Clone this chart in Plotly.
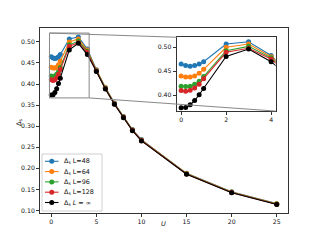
import plotly.graph_objects as go

U = [0, 0.2, 0.4, 0.6, 0.8, 1.0, 2, 3, 4, 5, 6, 7, 8, 9, 10, 15, 20, 25]
delta_L48 = [0.465, 0.462, 0.4605, 0.462, 0.465, 0.470, 0.507, 0.5117, 0.483,
             0.434, 0.392, 0.355, 0.323, 0.292, 0.268, 0.188, 0.144, 0.116]
delta_L64 = [0.440, 0.438, 0.438, 0.440, 0.446, 0.454, 0.500, 0.507, 0.4805,
             0.433, 0.391, 0.354, 0.322, 0.291, 0.267, 0.1875, 0.1435, 0.1155]
delta_L96 = [0.419, 0.418, 0.419, 0.423, 0.429, 0.439, 0.493, 0.502, 0.478,
             0.432, 0.390, 0.353, 0.3215, 0.2905, 0.2665, 0.187, 0.143, 0.115]
delta_L128 = [0.410, 0.4083, 0.4104, 0.415, 0.423, 0.4346, 0.4896, 0.498, 0.4756,
              0.431, 0.389, 0.3525, 0.321, 0.290, 0.266, 0.1865, 0.1425, 0.1145]
delta_Linf = [0.374, 0.3743, 0.380, 0.389, 0.401, 0.414, 0.481, 0.4965, 0.470,
              0.430, 0.388, 0.352, 0.320, 0.289, 0.265, 0.186, 0.142, 0.114]

series_names = ["Δ<sub>s</sub> L=48", "Δ<sub>s</sub> L=64", "Δ<sub>s</sub> L=96",
                "Δ<sub>s</sub> L=128", "Δ<sub>s</sub> <i>L</i> = ∞"]
series_values = [delta_L48, delta_L64, delta_L96, delta_L128, delta_Linf]
colors = ["#1f77b4", "#ff7f0e", "#2ca02c", "#d62728", "#000000"]

main_xticks = [0, 5, 10, 15, 20, 25]
main_yticks = [0.10, 0.15, 0.20, 0.25, 0.30, 0.35, 0.40, 0.45, 0.50]
inset_xticks = [0, 2, 4]
inset_yticks = [0.40, 0.45, 0.50]

main_xrange = [-1.25, 26.25]
main_yrange = [0.0938, 0.5330]
inset_xrange = [-0.2, 4.2]
inset_yrange = [0.367, 0.521]
inset_dom_x = [0.551, 0.950]
inset_dom_y = [0.551, 0.950]

W, H = 320, 240
ML, MR, MT, MB = 40, 32, 28, 27
PW, PH = W - ML - MR, H - MT - MB

FONT = "DejaVu Sans"
TXT = "#111111"
fig = go.Figure()

for name, vals, c in zip(series_names, series_values, colors):
    fig.add_trace(go.Scatter(x=U, y=vals, mode="lines+markers", name=name,
                             showlegend=False,
                             line=dict(color=c, width=1.1),
                             marker=dict(color=c, size=5, line=dict(width=0)),
                             xaxis="x", yaxis="y"))
for name, vals, c in zip(series_names, series_values, colors):
    fig.add_trace(go.Scatter(x=U, y=vals, mode="lines+markers", name=name,
                             showlegend=False,
                             line=dict(color=c, width=1.1),
                             marker=dict(color=c, size=5, line=dict(width=0)),
                             xaxis="x2", yaxis="y2"))

axis_common = dict(showline=True, linecolor="#333333", linewidth=0.8, mirror=True,
                   ticks="outside", ticklen=3, tickwidth=0.8, tickcolor="#333333",
                   showgrid=False, zeroline=False,
                   tickfont=dict(family=FONT, size=6.2, color=TXT))

fig.update_layout(
    width=W, height=H,
    margin=dict(l=ML, r=MR, t=MT, b=MB),
    paper_bgcolor="white", plot_bgcolor="white",
    font=dict(family=FONT, size=6.2, color=TXT),
    xaxis=dict(domain=[0, 1], range=main_xrange, tickvals=main_xticks, **axis_common),
    yaxis=dict(domain=[0, 1], range=main_yrange, tickvals=main_yticks,
               tickformat=".2f", **axis_common),
    xaxis2=dict(domain=inset_dom_x, range=inset_xrange, tickvals=inset_xticks,
                anchor="y2", **axis_common),
    yaxis2=dict(domain=inset_dom_y, range=inset_yrange, tickvals=inset_yticks,
                tickformat=".2f", anchor="x2", **axis_common),
    showlegend=False,
)

GREY = "#888888"
# inset indicator rectangle in main data coordinates
fig.add_shape(type="rect", xref="x", yref="y",
              x0=inset_xrange[0], x1=inset_xrange[1],
              y0=inset_yrange[0], y1=inset_yrange[1],
              line=dict(color=GREY, width=1), layer="above")


def to_paper_x(v):
    return (v - main_xrange[0]) / (main_xrange[1] - main_xrange[0])


def to_paper_y(v):
    return (v - main_yrange[0]) / (main_yrange[1] - main_yrange[0])


# connector: upper-left corners
fig.add_shape(type="line", xref="paper", yref="paper",
              x0=to_paper_x(inset_xrange[0]), y0=to_paper_y(inset_yrange[1]),
              x1=inset_dom_x[0], y1=inset_dom_y[1],
              line=dict(color=GREY, width=1), layer="above")
# connector: lower-right corners
fig.add_shape(type="line", xref="paper", yref="paper",
              x0=to_paper_x(inset_xrange[1]), y0=to_paper_y(inset_yrange[0]),
              x1=inset_dom_x[1], y1=inset_dom_y[0],
              line=dict(color=GREY, width=1), layer="above")


# compact legend (matplotlib-like), laid out in pixel units of the plot area
def px(xp):
    return (xp - ML) / PW


def py(yp):
    return (H - MB - yp) / PH


LEG_L, LEG_T, LEG_R, LEG_B = 42, 154, 102, 211
ROW0, ROW_H = 161.3, 10.3
HANDLE_X0, HANDLE_X1, TEXT_X = 45, 58.5, 61.5
fig.add_shape(type="rect", xref="paper", yref="paper",
              x0=px(LEG_L), x1=px(LEG_R), y0=py(LEG_B), y1=py(LEG_T),
              line=dict(color="#d0d0d0", width=1),
              fillcolor="rgba(255,255,255,0.8)", layer="above")
for i, (name, c) in enumerate(zip(series_names, colors)):
    yrow = ROW0 + i * ROW_H
    fig.add_shape(type="line", xref="paper", yref="paper",
                  x0=px(HANDLE_X0), x1=px(HANDLE_X1), y0=py(yrow), y1=py(yrow),
                  line=dict(color=c, width=1.1), layer="above")
    cx = (HANDLE_X0 + HANDLE_X1) / 2
    fig.add_shape(type="circle", xref="paper", yref="paper",
                  x0=px(cx - 2.5), x1=px(cx + 2.5), y0=py(yrow + 2.5), y1=py(yrow - 2.5),
                  line=dict(width=0), fillcolor=c, layer="above")
    fig.add_annotation(text=name, xref="paper", yref="paper", x=px(TEXT_X), y=py(yrow),
                       xanchor="left", yanchor="middle", showarrow=False,
                       font=dict(family=FONT, size=6.4, color=TXT))

fig.add_annotation(text="<i>U</i>", xref="paper", yref="paper", x=px(163), y=py(230),
                   showarrow=False, font=dict(family=FONT, size=6.6, color=TXT))
fig.add_annotation(text="Δ<sub>s</sub>", xref="paper", yref="paper", x=px(13), y=py(122),
                   textangle=-90, showarrow=False,
                   font=dict(family=FONT, size=6.6, color=TXT))

fig.write_html("out.html", config={"displayModeBar": False},
               post_script="document.body.style.margin='0';document.body.style.padding='0';")
